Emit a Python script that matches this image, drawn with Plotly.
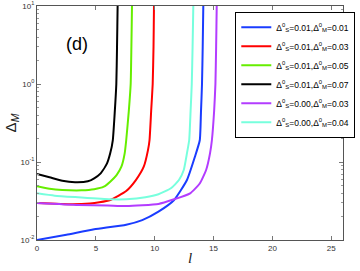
import plotly.graph_objects as go

# ---- data ----
names = ["Δ<sup>0</sup><sub>S</sub>=0.01,Δ<sup>0</sup><sub>M</sub>=0.01",
         "Δ<sup>0</sup><sub>S</sub>=0.01,Δ<sup>0</sup><sub>M</sub>=0.03",
         "Δ<sup>0</sup><sub>S</sub>=0.01,Δ<sup>0</sup><sub>M</sub>=0.05",
         "Δ<sup>0</sup><sub>S</sub>=0.01,Δ<sup>0</sup><sub>M</sub>=0.07",
         "Δ<sup>0</sup><sub>S</sub>=0.00,Δ<sup>0</sup><sub>M</sub>=0.03",
         "Δ<sup>0</sup><sub>S</sub>=0.00,Δ<sup>0</sup><sub>M</sub>=0.04"]
colors = ["#1a3cff", "#ff0000", "#66ee00", "#000000", "#b33cff", "#77ffdd"]

l_blue = [0, 2.5, 4.86, 7.58, 8.94, 10.32, 11.65, 12.74, 13.42, 13.83, 13.93, 14.02, 14.08, 14.13, 14.2]
v_blue = [0.0100, 0.0117, 0.0137, 0.0157, 0.0180, 0.0231, 0.0326, 0.0587, 0.117, 0.19, 0.43, 1.0, 3.0, 10, 30]

l_red = [0, 3, 4.5, 5.3, 6.22, 7.58, 8.4, 9.07, 9.43, 9.56, 9.7, 9.83, 9.9, 9.94, 9.98]
v_red = [0.0298, 0.0287, 0.0293, 0.0304, 0.0326, 0.0425, 0.0587, 0.087, 0.142, 0.19, 0.45, 1.0, 3.0, 10, 30]

l_green = [0, 1.06, 2.15, 3.78, 4.86, 5.68, 6.22, 6.76, 7.17, 7.45, 7.58, 7.8, 7.96, 8.02, 8.07, 8.1]
v_green = [0.049, 0.0455, 0.0438, 0.0433, 0.0447, 0.0482, 0.056, 0.068, 0.087, 0.129, 0.19, 0.45, 1.0, 3.0, 10, 30]

l_black = [0, 1.06, 2.15, 3.23, 4.32, 4.86, 5.41, 5.95, 6.22, 6.44, 6.6, 6.74, 6.8, 6.85, 6.9]
v_black = [0.070, 0.0637, 0.0575, 0.055, 0.0565, 0.0618, 0.0716, 0.096, 0.129, 0.19, 0.42, 1.0, 3.0, 10, 30]

l_purple = [0, 3.5, 6.0, 7.58, 10.32, 11.65, 13.01, 13.83, 14.37, 14.7, 14.86, 15.05, 15.16, 15.22, 15.27, 15.3]
v_purple = [0.0298, 0.0281, 0.0277, 0.0273, 0.029, 0.0333, 0.0397, 0.053, 0.079, 0.129, 0.19, 0.45, 1.0, 3.0, 10, 30]

l_cyan = [0, 1.5, 3.5, 6.22, 7.58, 9.21, 10.32, 11.38, 12.06, 12.47, 12.74, 12.93, 13.05, 13.15, 13.22, 13.28, 13.32]
v_cyan = [0.0397, 0.037, 0.0353, 0.0333, 0.0333, 0.0353, 0.0386, 0.046, 0.0587, 0.079, 0.129, 0.19, 0.45, 1.0, 3.0, 10, 30]

xs = [l_blue, l_red, l_green, l_black, l_purple, l_cyan]
ys = [v_blue, v_red, v_green, v_black, v_purple, v_cyan]

x_ticks = [0, 5, 10, 15, 20, 25]
y_ticks = [0.01, 0.1, 1, 10]
y_ticktext = ["10<sup>-2</sup>", "10<sup>-1</sup>", "10<sup>0</sup>", "10<sup>1</sup>"]
y_minor = [m * d for d in [0.01, 0.1, 1] for m in range(2, 10)]

fig = go.Figure()
for i, (x, y, n, c) in enumerate(zip(xs, ys, names, colors)):
    fig.add_trace(go.Scatter(x=x, y=y, mode="lines", name=n, legendgroup=f"g{i}",
                             line=dict(color=c, width=2, shape="spline", smoothing=0.5)))

axis_common = dict(showline=True, linecolor="#555555", linewidth=1, mirror="allticks",
                   ticks="inside", ticklen=4, tickcolor="#777777", showgrid=False, zeroline=False,
                   automargin=False,
                   tickfont=dict(family="Liberation Sans, Arial", size=8, color="#333333"))

fig.update_layout(
    width=360, height=271,
    margin=dict(l=37, r=5, t=6, b=31),
    paper_bgcolor="white", plot_bgcolor="white",
    xaxis=dict(range=[0, 26], tickvals=x_ticks, **axis_common,
               title=dict(text="<i>l</i>", font=dict(family="Liberation Serif, Times New Roman", size=15, color="#222"), standoff=0)),
    yaxis=dict(type="log", range=[-2, 1], tickvals=y_ticks, ticktext=y_ticktext, **axis_common,
               minor=dict(tickvals=y_minor, ticks="inside", ticklen=2, tickcolor="#999999"),
               title=dict(text="Δ<sub><i>M</i></sub>", font=dict(family="Liberation Sans, Arial", size=15, color="#222"), standoff=0)),
    legend=dict(x=0.648, y=0.975, xanchor="left", yanchor="top",
                bordercolor="black", borderwidth=1, bgcolor="white",
                font=dict(family="Liberation Sans, Arial", size=8.5, color="black"),
                tracegroupgap=0, itemwidth=30),
    showlegend=True,
)
fig.add_annotation(x=0.088, y=0.889, xref="paper", yref="paper", text="(d)", showarrow=False,
                   font=dict(family="Liberation Sans, Arial", size=18, color="black"))

fig.write_html("out.html", config={"displayModeBar": False},
               post_script="document.body.style.margin='0';")
